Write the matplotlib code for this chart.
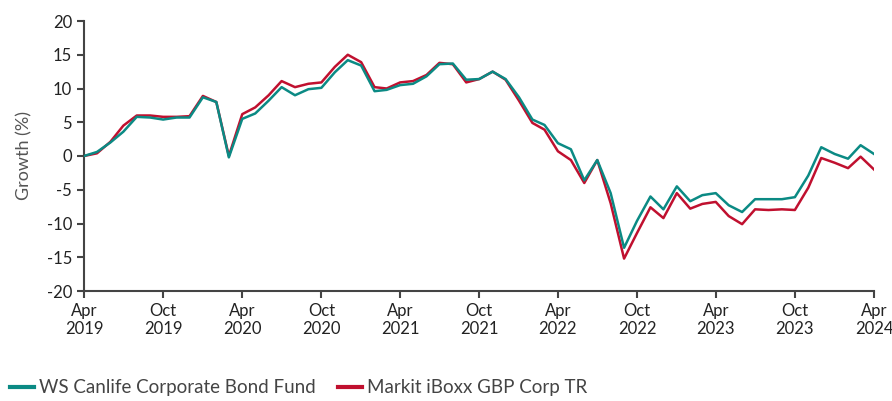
import matplotlib
matplotlib.use("Agg")
import matplotlib.pyplot as plt
import numpy as np
import pandas as pd

plt.rcParams['font.family'] = ['Lato', 'DejaVu Sans']
plt.rcParams['axes.unicode_minus'] = False

months = pd.date_range("2019-04-01", "2024-04-01", freq="MS")

fund = [0.0, 0.6, 2.0, 3.6, 5.8, 5.7, 5.4, 5.7, 5.7, 8.7,
        8.0, -0.2, 5.5, 6.3, 8.2, 10.2, 9.0, 9.9, 10.1, 12.4,
        14.2, 13.4, 9.6, 9.8, 10.5, 10.7, 11.8, 13.6, 13.7, 11.3,
        11.4, 12.5, 11.4, 8.7, 5.4, 4.6, 1.9, 1.0, -3.6, -0.6,
        -5.5, -13.6, -9.6, -6.0, -7.9, -4.5, -6.7, -5.8, -5.5, -7.3,
        -8.3, -6.4, -6.4, -6.4, -6.1, -2.9, 1.3, 0.3, -0.4, 1.6,
        0.3]
index = [0.0, 0.4, 2.1, 4.5, 6.0, 6.0, 5.8, 5.8, 5.9, 8.9,
         8.0, 0.0, 6.2, 7.2, 9.0, 11.1, 10.2, 10.7, 10.9, 13.2,
         15.0, 13.9, 10.2, 10.0, 10.9, 11.1, 12.0, 13.8, 13.6, 10.9,
         11.4, 12.5, 11.3, 8.2, 4.9, 3.9, 0.7, -0.6, -4.0, -0.6,
         -7.0, -15.2, -11.4, -7.6, -9.2, -5.5, -7.8, -7.1, -6.8, -8.9,
         -10.1, -7.9, -8.0, -7.9, -8.0, -4.7, -0.3, -1.0, -1.8, -0.1,
         -2.0]

tick_dates = pd.date_range("2019-04-01", "2024-04-01", freq="6MS")
tick_labels = [d.strftime("%b\n%Y") for d in tick_dates]

teal = "#0b8a84"
red = "#c0102f"

fig = plt.figure(figsize=(8.92, 4.01), dpi=100)
ax = fig.add_axes([84 / 892, 1 - 291 / 401, 790 / 892, 270 / 401])

ax.plot(months, fund, color=teal, lw=1.8, label="WS Canlife Corporate Bond Fund", zorder=3)
ax.plot(months, index, color=red, lw=1.8, label="Markit iBoxx GBP Corp TR", zorder=2)

ax.set_xlim(months[0], months[-1])
ax.set_ylim(-20, 20)
ax.set_yticks(np.arange(-20, 21, 5))
ax.set_xticks(tick_dates)
ax.set_xticklabels(tick_labels)

for s in ["top", "right"]:
    ax.spines[s].set_visible(False)
for s in ["left", "bottom"]:
    ax.spines[s].set_color("#444444")
    ax.spines[s].set_linewidth(1.5)
ax.tick_params(colors="#444444", labelcolor="#222222", labelsize=12, width=1.5, length=5)
ax.set_ylabel("Growth (%)", fontsize=13, color="#555555", labelpad=10)

leg = fig.legend(loc="lower left", bbox_to_anchor=(-0.008, -0.03), ncol=2, frameon=False,
                 fontsize=13.5, handlelength=1.3, handletextpad=0.25, columnspacing=1.2,
                 labelcolor="#444444")
for h in leg.get_lines():
    h.set_linewidth(3)

fig.savefig("out.png", dpi=100)
